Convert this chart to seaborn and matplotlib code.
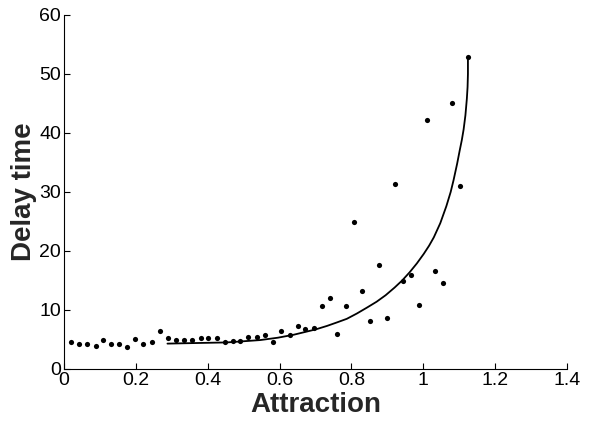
import matplotlib
matplotlib.use("Agg")

import matplotlib.pyplot as plt
import seaborn as sns

# measured points (attraction, delay time)
attraction = [0.019, 0.042, 0.065, 0.088, 0.110, 0.132, 0.154, 0.176, 0.199, 0.221,
              0.244, 0.267, 0.289, 0.312, 0.334, 0.357, 0.380, 0.402, 0.425, 0.447,
              0.469, 0.491, 0.513, 0.537, 0.560, 0.582, 0.604, 0.628, 0.650, 0.671,
              0.695, 0.717, 0.740, 0.761, 0.786, 0.808, 0.830, 0.852, 0.877, 0.898,
              0.921, 0.942, 0.966, 0.988, 1.011, 1.033, 1.056, 1.079, 1.101, 1.124]
delay = [4.5, 4.2, 4.2, 3.9, 4.9, 4.2, 4.2, 3.8, 5.0, 4.2,
         4.5, 6.4, 5.2, 4.9, 4.9, 4.9, 5.3, 5.2, 5.3, 4.5,
         4.8, 4.8, 5.4, 5.4, 5.8, 4.6, 6.4, 5.8, 7.2, 6.7,
         6.9, 10.7, 12.1, 5.9, 10.7, 24.9, 13.3, 8.2, 17.7, 8.6,
         31.4, 14.9, 16.0, 10.8, 42.2, 16.6, 14.6, 45.1, 31.0, 52.9]

# fitted curve
fit_x = [0.288, 0.370, 0.453, 0.500, 0.546, 0.595, 0.639, 0.700, 0.732, 0.760,
         0.787, 0.815, 0.843, 0.870, 0.895, 0.920, 0.941, 0.962, 0.982, 1.001,
         1.016, 1.029, 1.047, 1.064, 1.076, 1.084, 1.094, 1.101, 1.107, 1.112,
         1.117, 1.121, 1.123, 1.124, 1.124]
fit_y = [4.3, 4.4, 4.5, 4.7, 4.9, 5.3, 5.8, 6.7, 7.3, 7.9,
         8.5, 9.4, 10.4, 11.4, 12.5, 13.8, 15.0, 16.4, 17.9, 19.5,
         20.9, 22.3, 24.7, 27.6, 30.0, 32.0, 34.8, 37.0, 38.8, 40.6,
         43.0, 45.8, 47.8, 50.0, 52.9]

x_ticks = [0, 0.2, 0.4, 0.6, 0.8, 1.0, 1.2, 1.4]
x_tick_labels = ["0", "0.2", "0.4", "0.6", "0.8", "1", "1.2", "1.4"]
y_ticks = [0, 10, 20, 30, 40, 50, 60]

sns.set_style("ticks")
plt.rcParams["font.family"] = ["Liberation Sans", "DejaVu Sans"]

fig = plt.figure(figsize=(5.92, 4.23), dpi=100)
ax = fig.add_axes([0.108, 0.1277, 0.850, 0.837])

sns.scatterplot(x=attraction, y=delay, ax=ax, color="black", s=14,
                linewidth=0, zorder=3)
sns.lineplot(x=fit_x, y=fit_y, ax=ax, color="black", linewidth=1.3,
             estimator=None, sort=False)

ax.set_xlim(0, 1.4)
ax.set_ylim(0, 60)
ax.set_xticks(x_ticks)
ax.set_xticklabels(x_tick_labels)
ax.set_yticks(y_ticks)
ax.tick_params(direction="in", length=4, width=0.8, labelsize=14, pad=2,
               colors="black")
for side in ["top", "right"]:
    ax.spines[side].set_visible(False)
for side in ["left", "bottom"]:
    ax.spines[side].set_linewidth(0.8)
    ax.spines[side].set_color("black")

ax.set_xlabel("Attraction", fontsize=20, fontweight="bold", labelpad=2)
ax.set_ylabel("Delay time", fontsize=20, fontweight="bold")
ax.yaxis.set_label_coords(-0.054, 0.5)

plt.savefig("out.png", dpi=100)
plt.close()
